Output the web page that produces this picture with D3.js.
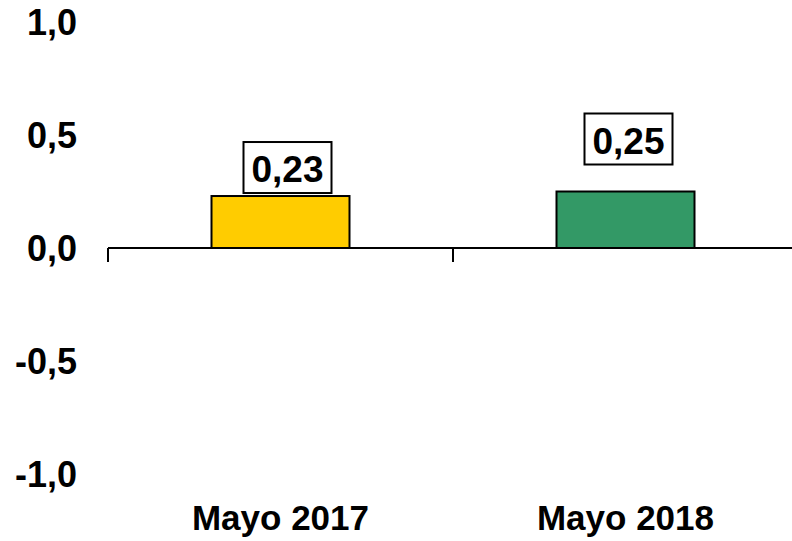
<!DOCTYPE html>
<html>
<head>
<meta charset="utf-8">
<script src="https://cdn.jsdelivr.net/npm/d3@7"></script>
<style>
  html, body { margin: 0; padding: 0; background: #fff; }
  svg { display: block; font-family: Arial, "Liberation Sans", sans-serif; font-weight: bold; }
</style>
</head>
<body>
<svg id="chart" width="792" height="541"></svg>
<script>
const categories = ["Mayo 2017", "Mayo 2018"];
const values = [0.23, 0.25];
const valueLabels = ["0,23", "0,25"];
const barColors = ["#FFCC00", "#339966"];
const yTicks = [1.0, 0.5, 0.0, -0.5, -1.0];
const yTickLabels = ["1,0", "0,5", "0,0", "-0,5", "-1,0"];

const svg = d3.select("#chart");
const fmt = new Map(yTicks.map((t, i) => [t, yTickLabels[i]]));

const y = d3.scaleLinear().domain([-1, 1]).range([474, 22]);
const x = d3.scaleBand().domain(categories).range([108, 798]).paddingInner(0.6).paddingOuter(0.3);

// Y axis labels (no axis line)
const yAxis = d3.axisLeft(y).tickValues(yTicks).tickSize(0).tickPadding(0).tickFormat(d => fmt.get(d));
const gy = svg.append("g").attr("transform", "translate(77,0)").call(yAxis);
gy.select(".domain").remove();
gy.selectAll("text").attr("font-size", 36).attr("font-weight", "bold").attr("font-family", "Arial, 'Liberation Sans', sans-serif").attr("fill", "#000").attr("dy", "0.36em");

// Bars
svg.append("g").selectAll("rect").data(values).join("rect")
  .attr("x", (d, i) => x(categories[i]))
  .attr("width", x.bandwidth())
  .attr("y", d => y(d))
  .attr("height", d => y(0) - y(d))
  .attr("fill", (d, i) => barColors[i])
  .attr("stroke", "#000").attr("stroke-width", 2);

// Zero axis line with category boundary ticks
const step = x.step();
const x0 = x.range()[0];
svg.append("line").attr("x1", x0).attr("x2", x.range()[1]).attr("y1", y(0)).attr("y2", y(0))
  .attr("stroke", "#000").attr("stroke-width", 2);
const boundaries = d3.range(categories.length + 1).map(i => x0 + i * step);
svg.append("g").selectAll("line").data(boundaries).join("line")
  .attr("x1", d => d).attr("x2", d => d).attr("y1", y(0)).attr("y2", y(0) + 14)
  .attr("stroke", "#000").attr("stroke-width", 2);

// Category labels
const xAxis = d3.axisBottom(x).tickSize(0).tickPadding(0);
const gx = svg.append("g").attr("transform", "translate(0,530)").call(xAxis);
gx.select(".domain").remove();
gx.selectAll("text").attr("font-size", 35).attr("font-weight", "bold").attr("font-family", "Arial, 'Liberation Sans', sans-serif").attr("fill", "#000").attr("dy", "0").attr("dx", 0);

// Value labels in boxes
const labelLift = [3, 27];
const labelShift = [7, 3];
const boxW = 88, boxH = 51;
const lg = svg.append("g").selectAll("g").data(values).join("g")
  .attr("transform", (d, i) => `translate(${x(categories[i]) + x.bandwidth() / 2 + labelShift[i]},${y(d) - labelLift[i] - boxH})`);
lg.append("rect").attr("x", -boxW / 2).attr("y", 0).attr("width", boxW).attr("height", boxH)
  .attr("fill", "#fff").attr("stroke", "#000").attr("stroke-width", 2);
lg.append("text").attr("x", 0).attr("y", 40).attr("text-anchor", "middle")
  .attr("font-size", 37).attr("fill", "#000").text((d, i) => valueLabels[i]);
</script>
</body>
</html>
